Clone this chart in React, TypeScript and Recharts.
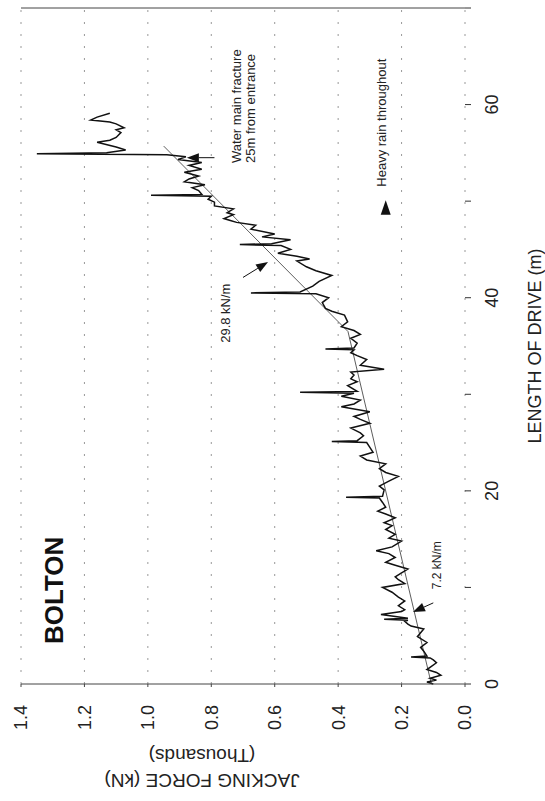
import React from 'react';
import { LineChart, Line, XAxis, YAxis, CartesianGrid, ReferenceLine } from 'recharts';

// length of drive (m) and jacking force (thousands of kN)
const LENGTH = [
  0, 0.2, 0.4, 0.6, 0.9, 1.2, 1.5, 1.8, 2.2, 2.5, 2.7, 2.8, 2.9, 3.4, 3.8, 4.3, 4.9, 5.3, 5.7, 6.0,
  6.2, 6.5, 6.6, 6.7, 6.8, 7.2, 7.5, 7.7, 8.1, 8.6, 9.0, 9.5, 10.0, 10.4, 10.8, 11.1, 11.5, 11.9, 12.3, 12.6,
  13.1, 13.5, 13.8, 14.2, 14.8, 15.1, 15.5, 16.0, 16.4, 16.7, 17.2, 17.6, 17.9, 18.3, 18.8, 19.25, 19.35, 19.45, 20.1, 20.5,
  21.0, 21.5, 21.9, 22.3, 22.8, 23.2, 23.6, 24.0, 24.5, 25.0, 25.1, 25.2, 25.7, 26.0, 26.5, 27.0, 27.4, 27.7, 28.2, 28.7,
  29.0, 29.4, 29.8, 30.1, 30.2, 30.3, 30.9, 31.3, 31.6, 32.0, 32.3, 32.6, 33.0, 33.6, 34.0, 34.3, 34.6, 34.7, 34.8, 35.3,
  35.8, 36.2, 36.6, 37.0, 37.5, 38.2, 38.6, 38.9, 39.5, 40.0, 40.4, 40.5, 40.6, 41.2, 41.7, 42.3, 42.8, 43.2, 43.8, 44.0,
  44.3, 44.6, 45.0, 45.4, 45.5, 45.6, 46.0, 46.3, 46.6, 47.1, 47.5, 47.8, 48.0, 48.2, 48.6, 48.8, 49.2, 49.5, 49.9, 50.2,
  50.5, 50.6, 50.7, 51.1, 51.4, 51.7, 52.0, 52.3, 52.6, 53.0, 53.3, 53.7, 54.0, 54.3, 54.6, 54.8, 54.9, 55.0, 55.3, 55.6,
  56.1, 56.3, 56.6, 57.1, 57.4, 57.6, 58.0, 58.2, 58.4, 58.7, 59.1,
];
const FORCE = [
  0.1, 0.12, 0.09, 0.11, 0.076, 0.09, 0.12, 0.107, 0.09, 0.1, 0.11, 0.17, 0.12, 0.13, 0.14, 0.12, 0.15, 0.14, 0.13, 0.17,
  0.18, 0.19, 0.18, 0.255, 0.18, 0.265, 0.2, 0.19, 0.21, 0.19, 0.21, 0.23, 0.26, 0.19, 0.21, 0.22, 0.2, 0.18, 0.22, 0.25,
  0.22, 0.24, 0.28, 0.23, 0.2, 0.24, 0.22, 0.25, 0.23, 0.255, 0.22, 0.25, 0.275, 0.25, 0.26, 0.27, 0.375, 0.26, 0.255, 0.27,
  0.24, 0.21, 0.25, 0.27, 0.25, 0.31, 0.33, 0.29, 0.3, 0.31, 0.42, 0.34, 0.32, 0.33, 0.36, 0.3, 0.33, 0.35, 0.3, 0.39,
  0.35, 0.33, 0.39, 0.35, 0.52, 0.34, 0.37, 0.34, 0.36, 0.35, 0.36, 0.255, 0.33, 0.31, 0.34, 0.36, 0.35, 0.44, 0.35, 0.34,
  0.36, 0.33, 0.35, 0.39, 0.37, 0.38, 0.42, 0.44, 0.45, 0.43, 0.47, 0.675, 0.52, 0.48, 0.46, 0.42, 0.47, 0.5, 0.53, 0.49,
  0.53, 0.59, 0.55, 0.58, 0.71, 0.61, 0.55, 0.64, 0.6, 0.675, 0.66, 0.72, 0.74, 0.76, 0.73, 0.75, 0.73, 0.79, 0.79, 0.81,
  0.8, 0.99, 0.83, 0.84, 0.86, 0.82, 0.885, 0.87, 0.84, 0.885, 0.83, 0.87, 0.83, 0.905, 0.88, 0.94, 1.35, 1.13, 1.07, 1.1,
  1.16, 1.12, 1.1, 1.085, 1.1, 1.075, 1.1, 1.12, 1.18, 1.16, 1.12,
];

const LENGTH_TICKS = [0, 10, 20, 30, 40, 50, 60, 70];
const FORCE_TICKS = [0, 0.2, 0.4, 0.6, 0.8, 1.0, 1.2, 1.4];

// fitted gradients
const FIT_LOW = [{ x: 0, y: 0.106 }, { x: 36.5, y: 0.369 }];
const FIT_HIGH = [{ x: 36.5, y: 0.369 }, { x: 55.7, y: 0.95 }];

const data = LENGTH.map((l, i) => ({ length: l, force: FORCE[i] }));

const W = 801;
const H = 545;
const PLOT = { left: 117, right: 793, top: 21, bottom: 465 };
const xOf = (l: number) => PLOT.left + (l / 70) * (PLOT.right - PLOT.left);
const yOf = (f: number) => PLOT.bottom - (f / 1.4) * (PLOT.bottom - PLOT.top);

const FONT = '"Liberation Sans", Arial, Helvetica, sans-serif';

const Arrow = ({ from, to }: { from: [number, number]; to: [number, number] }) => {
  const x1 = xOf(from[0]), y1 = yOf(from[1]);
  const x2 = xOf(to[0]), y2 = yOf(to[1]);
  const dx = x2 - x1, dy = y2 - y1;
  const len = Math.sqrt(dx * dx + dy * dy);
  const ux = dx / len, uy = dy / len;
  const bx = x2 - ux * 12, by = y2 - uy * 12;
  const pts = `${x2},${y2} ${bx - uy * 4.5},${by + ux * 4.5} ${bx + uy * 4.5},${by - ux * 4.5}`;
  return (
    <g>
      <line x1={x1} y1={y1} x2={bx} y2={by} stroke="#111" strokeWidth={1} />
      <polygon points={pts} fill="#111" />
    </g>
  );
};

const Overlay = () => (
  <svg width={W} height={H} style={{ position: 'absolute', left: 0, top: 0, pointerEvents: 'none' }} fontFamily={FONT}>
    <text x={xOf(9.7)} y={yOf(1.296)} textAnchor="middle" dominantBaseline="central" fontSize={26} fontWeight="bold" fill="#111">
      BOLTON
    </text>
    <text x={21} y={202} transform="rotate(-90, 21, 202)" textAnchor="middle" dominantBaseline="central" fontSize={19} fill="#222">
      JACKING FORCE (kN)
    </text>
    <text x={46} y={202} transform="rotate(-90, 46, 202)" textAnchor="middle" dominantBaseline="central" fontSize={19} fill="#222">
      (Thousands)
    </text>
    <text x={455} y={535} textAnchor="middle" dominantBaseline="central" fontSize={18} fill="#222">
      LENGTH OF DRIVE (m)
    </text>

    <text x={xOf(12.3)} y={yOf(0.088)} textAnchor="middle" dominantBaseline="central" fontSize={12} fill="#222">
      7.2 kN/m
    </text>
    <Arrow from={[8.4, 0.1]} to={[7.45, 0.164]} />

    <text x={xOf(38.4)} y={yOf(0.754)} textAnchor="middle" dominantBaseline="central" fontSize={13} fill="#222">
      29.8 kN/m
    </text>
    <Arrow from={[42.1, 0.7]} to={[43.7, 0.621]} />

    <text x={xOf(53.95)} y={yOf(0.719)} dominantBaseline="central" fontSize={13} fill="#222">
      Water main fracture
    </text>
    <text x={xOf(53.95)} y={yOf(0.675)} dominantBaseline="central" fontSize={13} fill="#222">
      25m from entrance
    </text>
    <Arrow from={[54.5, 0.79]} to={[54.5, 0.877]} />

    <polygon
      points={`${xOf(50.1)},${yOf(0.25)} ${xOf(48.6)},${yOf(0.25) - 5} ${xOf(48.6)},${yOf(0.25) + 5}`}
      fill="#111"
    />
    <text x={xOf(51.5)} y={yOf(0.262)} dominantBaseline="central" fontSize={13} fill="#222">
      Heavy rain throughout
    </text>
  </svg>
);

export default function App() {
  return (
    <div style={{ position: 'absolute', left: 0, top: 0, width: 545, height: 801, overflow: 'hidden', background: '#fff' }}>
      <div
        style={{
          position: 'absolute',
          left: 0,
          top: 0,
          width: W,
          height: H,
          transformOrigin: '0 0',
          transform: 'translate(0px, 801px) rotate(-90deg)',
        }}
      >
        <LineChart width={W} height={H} data={data} margin={{ top: 21, right: 8, bottom: 20, left: 0 }}>
          <CartesianGrid vertical={false} stroke="#999" strokeDasharray="2 10" />
          <XAxis
            dataKey="length"
            type="number"
            domain={[0, 70]}
            ticks={LENGTH_TICKS}
            tickFormatter={(v: number) => (v % 20 === 0 ? String(v) : '')}
            axisLine={false}
            tickSize={6}
            tickMargin={14}
            height={60}
            stroke="#333"
            tick={{ fontSize: 18, fill: '#222', fontFamily: FONT }}
          />
          <YAxis
            type="number"
            domain={[0, 1.4]}
            ticks={FORCE_TICKS}
            tickFormatter={(v: number) => v.toFixed(1)}
            width={117}
            tickSize={3}
            tickMargin={18}
            stroke="#444"
            tick={{ fontSize: 18, fill: '#222', fontFamily: FONT }}
          />
          <YAxis
            yAxisId="r"
            orientation="right"
            type="number"
            domain={[0, 1.4]}
            ticks={FORCE_TICKS}
            tickFormatter={() => ''}
            width={0}
            tickSize={4}
            mirror
            stroke="#444"
          />
          <ReferenceLine x={70} stroke="#444" strokeWidth={1} />
          <ReferenceLine segment={FIT_LOW} stroke="#333" strokeWidth={0.8} />
          <ReferenceLine segment={FIT_HIGH} stroke="#333" strokeWidth={0.8} />
          <Line
            type="linear"
            dataKey="force"
            stroke="#111"
            strokeWidth={1.5}
            dot={false}
            isAnimationActive={false}
          />
        </LineChart>
        <Overlay />
      </div>
    </div>
  );
}
